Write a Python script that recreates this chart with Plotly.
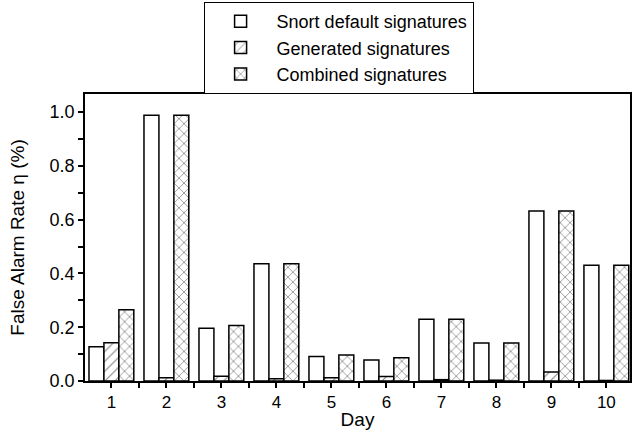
import plotly.graph_objects as go

days = [1, 2, 3, 4, 5, 6, 7, 8, 9, 10]
day_labels = ["1", "2", "3", "4", "5", "6", "7", "8", "9", "10"]
x_minor_ticks = [0.5, 1.5, 2.5, 3.5, 4.5, 5.5, 6.5, 7.5, 8.5, 9.5, 10.5]
y_major_ticks = [0.0, 0.2, 0.4, 0.6, 0.8, 1.0]
y_minor_ticks = [0.1, 0.3, 0.5, 0.7, 0.9]
snort_default = [0.127, 0.988, 0.196, 0.436, 0.091, 0.078, 0.230, 0.141, 0.632, 0.430]
generated = [0.142, 0.012, 0.018, 0.008, 0.012, 0.017, 0.005, 0.003, 0.033, 0.002]
combined = [0.265, 0.988, 0.206, 0.436, 0.097, 0.086, 0.230, 0.141, 0.632, 0.430]
series_names = ["Snort default signatures", "Generated signatures", "Combined signatures"]

FONT = "Liberation Sans, Arial, sans-serif"
X_RANGE = [0.52, 10.43]
Y_RANGE = [0, 1.067]

# all tick positions on one axis; minor ones carry an empty label
x_tickvals = days + x_minor_ticks
x_ticktext = day_labels + [""] * len(x_minor_ticks)
y_tickvals = y_major_ticks + y_minor_ticks
y_ticktext = [f"{v:.1f}" for v in y_major_ticks] + [""] * len(y_minor_ticks)

fig = go.Figure()
fig.add_trace(go.Bar(x=days, y=snort_default, name=series_names[0],
                     marker=dict(color="white", line=dict(color="black", width=1.5))))
fig.add_trace(go.Bar(x=days, y=generated, name=series_names[1],
                     marker=dict(color="white", line=dict(color="black", width=1.5),
                                 pattern=dict(shape="/", fgcolor="black", bgcolor="white",
                                              size=7, solidity=0.15))))
fig.add_trace(go.Bar(x=days, y=combined, name=series_names[2],
                     marker=dict(color="white", line=dict(color="black", width=1.5),
                                 pattern=dict(shape="x", fgcolor="black", bgcolor="white",
                                              size=7, solidity=0.2))))

fig.update_layout(
    width=634, height=437,
    margin=dict(l=85, r=2, t=93, b=56),
    paper_bgcolor="white", plot_bgcolor="white",
    font=dict(family=FONT, size=17, color="black"),
    barmode="group", bargap=0.185, bargroupgap=0,
    showlegend=True,
    legend=dict(x=0.2176, xanchor="left", y=1, yanchor="bottom",
                bordercolor="black", borderwidth=1, bgcolor="white",
                font=dict(family=FONT, size=18, color="black"),
                tracegroupgap=0, itemwidth=62),
    xaxis=dict(
        range=X_RANGE, tickmode="array", tickvals=x_tickvals, ticktext=x_ticktext,
        ticks="outside", ticklen=5, tickwidth=1.5, tickcolor="black",
        showline=True, linecolor="black", linewidth=1.5, mirror=True,
        showgrid=False, zeroline=False,
        title=dict(text="Day", font=dict(family=FONT, size=19), standoff=2),
        tickfont=dict(family=FONT, size=17),
    ),
    yaxis=dict(
        range=Y_RANGE, tickmode="array", tickvals=y_tickvals, ticktext=y_ticktext,
        ticks="outside", ticklen=5, tickwidth=1.5, tickcolor="black",
        showline=True, linecolor="black", linewidth=1.5, mirror=True,
        showgrid=False, zeroline=False,
        title=dict(text="False Alarm Rate η (%)", font=dict(family=FONT, size=19), standoff=20),
        tickfont=dict(family=FONT, size=18),
    ),
)

fig.write_html("out.html")
